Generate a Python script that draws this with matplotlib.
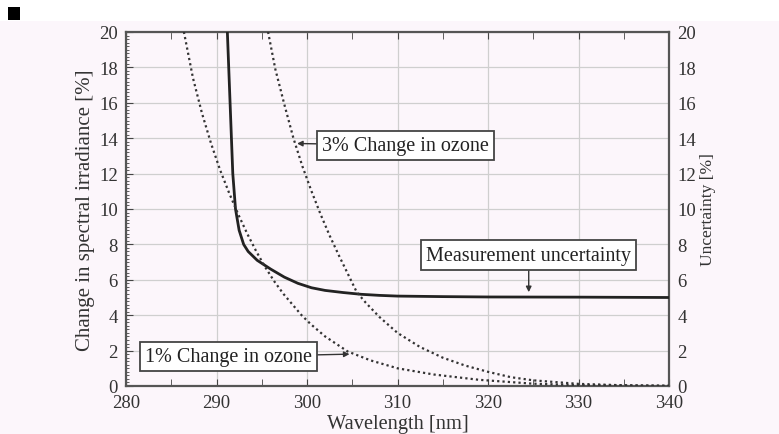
import matplotlib
matplotlib.use("Agg")
import matplotlib.pyplot as plt
from matplotlib.ticker import MultipleLocator
import matplotlib.patches as patches

# values
wl_meas = [291.0, 291.2, 291.5, 291.8, 292.1, 292.5, 293.0, 293.5, 294.5, 296.0,
           297.5, 299.0, 300.5, 302.0, 304.0, 306.0, 308.0, 310.0, 315.0, 320.0,
           330.0, 340.0]
unc_meas = [23.0, 20.0, 16.0, 12.0, 10.0, 8.8, 8.0, 7.6, 7.1, 6.6,
            6.15, 5.8, 5.55, 5.4, 5.28, 5.18, 5.12, 5.08, 5.05, 5.03,
            5.02, 5.0]

wl_oz1 = [286.0, 286.4, 287.4, 288.4, 289.4, 290.4, 291.4, 292.4, 293.4, 294.4,
          295.4, 296.4, 297.4, 298.4, 299.4, 300.4, 302.0, 304.5, 307.0, 310.0,
          314.0, 319.0, 325.0, 330.0, 340.0]
chg_oz1 = [21.2, 20.0, 17.4, 15.4, 13.7, 12.2, 10.9, 9.7, 8.6, 7.6,
           6.7, 5.9, 5.2, 4.6, 4.0, 3.5, 2.8, 1.95, 1.45, 1.0,
           0.65, 0.35, 0.13, 0.05, 0.01]

wl_oz3 = [295.3, 295.7, 296.5, 297.5, 298.5, 299.5, 300.5, 301.5, 302.5, 303.5,
          304.5, 305.5, 306.5, 308.0, 310.0, 312.5, 315.0, 317.5, 320.0, 322.5,
          325.0, 330.0, 335.0, 340.0]
chg_oz3 = [21.2, 20.0, 17.9, 15.9, 14.0, 12.4, 11.0, 9.7, 8.5, 7.4,
           6.35, 5.3, 4.7, 3.9, 3.0, 2.2, 1.6, 1.15, 0.8, 0.5,
           0.32, 0.12, 0.04, 0.01]

x_ticks = [280, 290, 300, 310, 320, 330, 340]
y_ticks = [0, 2, 4, 6, 8, 10, 12, 14, 16, 18, 20]

bg = "#fcf6fb"
plt.rcParams["font.family"] = ["Liberation Serif", "DejaVu Serif"]

fig = plt.figure(figsize=(7.79, 4.35), dpi=100, facecolor=bg)
# white strip at the top and the little black square
fig.patches.append(patches.Rectangle((0, 1 - 22 / 435), 1, 22 / 435, transform=fig.transFigure,
                                     facecolor="white", edgecolor="none", zorder=0))
fig.patches.append(patches.Rectangle((8 / 779, 1 - 21 / 435), 12 / 779, 13 / 435,
                                     transform=fig.transFigure, facecolor="black",
                                     edgecolor="none", zorder=1))

ax = fig.add_axes([126 / 779, 1 - 387 / 435, 543 / 779, 354 / 435])
ax.set_facecolor(bg)

ax.plot(wl_meas, unc_meas, color="#222222", lw=2.0, zorder=3)
ax.plot(wl_oz1, chg_oz1, color="#333333", lw=1.6, ls=(0, (1, 1.4)), zorder=3)
ax.plot(wl_oz3, chg_oz3, color="#333333", lw=1.6, ls=(0, (1, 1.4)), zorder=3)

ax.set_xlim(280, 340)
ax.set_ylim(0, 20)
ax.set_xticks(x_ticks)
ax.set_yticks(y_ticks)
ax.xaxis.set_minor_locator(MultipleLocator(5))
ax.yaxis.set_minor_locator(MultipleLocator(0.2))
ax.grid(True, which="major", color="#cfcfcf", lw=0.9)
ax.tick_params(which="both", direction="in", top=True, bottom=True, left=True, right=False,
               labelsize=13.5, colors="#444444", labelcolor="#333333")
ax.tick_params(which="major", length=5, pad=6)
ax.tick_params(which="minor", axis="x", length=5)
ax.tick_params(which="minor", axis="y", length=2.5)
for s in ax.spines.values():
    s.set_color("#555555")
    s.set_linewidth(1.6)

ax.set_xlabel("Wavelength [nm]", fontsize=14.7, color="#333333", labelpad=2)
ax.set_ylabel("Change in spectral irradiance [%]", fontsize=15, color="#333333", labelpad=3)

ax2 = ax.twinx()
ax2.set_ylim(0, 20)
ax2.set_yticks(y_ticks)
ax2.tick_params(axis="y", length=0, pad=6, labelsize=13.5, labelcolor="#333333")
ax2.set_ylabel("Uncertainty [%]", fontsize=12.5, color="#333333", labelpad=3)
for s in ax2.spines.values():
    s.set_visible(False)

box = dict(boxstyle="square,pad=0.25", facecolor="white", edgecolor="#444444", lw=1.3)
arrow = dict(arrowstyle="-|>", color="#333333", lw=1.0, mutation_scale=8, shrinkA=0, shrinkB=0)
ax.annotate("3% Change in ozone", xy=(298.9, 13.7), xytext=(310.9, 13.6), fontsize=14.5,
            ha="center", va="center", bbox=box, arrowprops=arrow, color="#222222", zorder=5)
ax.annotate("1% Change in ozone", xy=(304.7, 1.8), xytext=(291.3, 1.65), fontsize=14.5,
            ha="center", va="center", bbox=box, arrowprops=arrow, color="#222222", zorder=5)
ax.annotate("Measurement uncertainty", xy=(324.5, 5.3), xytext=(324.5, 7.4), fontsize=14.5,
            ha="center", va="center", bbox=box, arrowprops=arrow, color="#222222", zorder=5)

fig.savefig("out.png", dpi=100, facecolor=bg)
